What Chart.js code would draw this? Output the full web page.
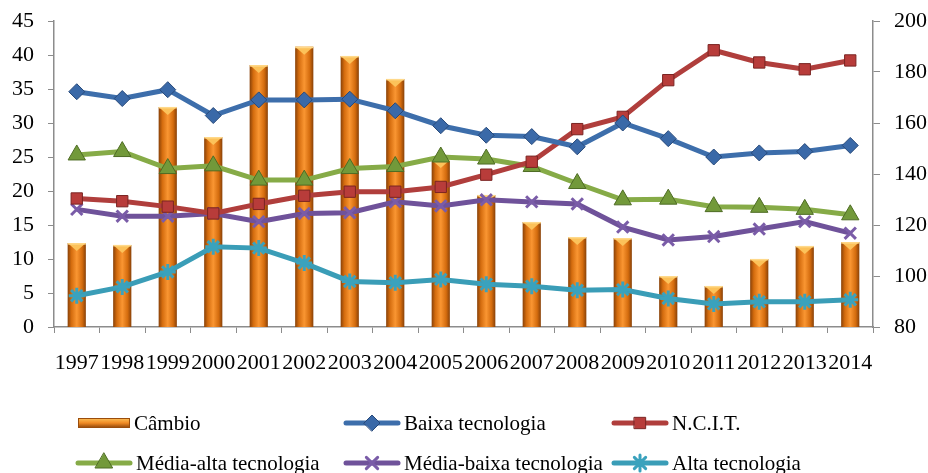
<!DOCTYPE html>
<html>
<head>
<meta charset="utf-8">
<script src="https://cdn.jsdelivr.net/npm/chart.js@4.4.1/dist/chart.umd.min.js"></script>
<style>
html,body{margin:0;padding:0;background:#fff;}
#wrap{position:relative;width:928px;height:473px;}
</style>
</head>
<body>
<div id="wrap"><canvas id="c" width="928" height="473"></canvas></div>
<script>
const years = ['1997','1998','1999','2000','2001','2002','2003','2004','2005','2006','2007','2008','2009','2010','2011','2012','2013','2014'];
const cambio = [112.9,112.2,166.3,154.5,182.7,189.9,186.3,177.3,145.5,131.8,121.2,115.3,114.9,100.0,96.1,106.7,111.8,113.3];
const baixa = [34.6,33.6,34.9,31.1,33.4,33.4,33.5,31.8,29.6,28.2,28.0,26.5,30.0,27.7,25.0,25.6,25.8,26.7];
const ncit = [18.9,18.5,17.7,16.7,18.1,19.3,19.9,19.9,20.6,22.4,24.3,29.1,30.9,36.3,40.7,38.9,37.9,39.2];
const mediaAlta = [25.3,25.8,23.3,23.7,21.6,21.6,23.3,23.6,25.0,24.7,23.6,21.1,18.7,18.8,17.7,17.6,17.3,16.5];
const mediaBaixa = [17.3,16.3,16.3,16.7,15.5,16.7,16.8,18.4,17.8,18.7,18.4,18.1,14.7,12.8,13.3,14.4,15.5,13.8];
const alta = [4.6,5.9,8.1,11.8,11.6,9.4,6.7,6.5,7.0,6.3,6.0,5.4,5.5,4.2,3.4,3.7,3.7,4.0];
const leftTicks = [0,5,10,15,20,25,30,35,40,45];
const rightTicks = [80,100,120,140,160,180,200];

const FONT = "'Liberation Serif', 'Times New Roman', serif";
const AXIS = '#8c8c8c';

function barGradient(context){
  const chart = context.chart;
  const xs = chart.scales.x;
  if (!xs || xs.width === undefined || !chart.chartArea) return '#f08a24';
  const cx = xs.getPixelForValue(context.dataIndex);
  const w = 9;
  const g = chart.ctx.createLinearGradient(cx - w, 0, cx + w, 0);
  g.addColorStop(0, '#8a4208');
  g.addColorStop(0.2, '#d46c0e');
  g.addColorStop(0.5, '#fa9632');
  g.addColorStop(0.8, '#d46c0e');
  g.addColorStop(1, '#8a4208');
  return g;
}

const barTopPlugin = {
  id: 'barTop',
  afterDatasetDraw(chart, args) {
    if (args.index !== 0) return;
    const ctx = chart.ctx;
    const meta = args.meta;
    ctx.save();
    meta.data.forEach(el => {
      const x = el.x, y = el.y, hw = el.width / 2;
      ctx.fillStyle = '#fcc25a';
      ctx.beginPath();
      ctx.moveTo(x - hw, y);
      ctx.lineTo(x + hw, y);
      ctx.lineTo(x, y + 8);
      ctx.closePath();
      ctx.fill();
      ctx.fillStyle = '#ffd98a';
      ctx.fillRect(x - hw, y, el.width, 1.5);
    });
    ctx.restore();
  }
};

const legendItems = [
  {label:'Câmbio', type:'bar', x:78, y:423},
  {label:'Baixa tecnologia', type:'line', color:'#3d6eab', style:'rectRot', x:344, y:423},
  {label:'N.C.I.T.', type:'line', color:'#b03e3c', style:'rect', x:612, y:423},
  {label:'Média-alta tecnologia', type:'line', color:'#86ab47', style:'triangle', x:76, y:463},
  {label:'Média-baixa tecnologia', type:'line', color:'#6f529a', style:'crossRot', x:344, y:463},
  {label:'Alta tecnologia', type:'line', color:'#3a9db7', style:'star', x:612, y:463}
];

function markerStyle(style){
  switch(style){
    case 'rectRot': return {fill:'#3a69a8', stroke:'#27497a', r:8, bw:1};
    case 'rect': return {fill:'#b83c3a', stroke:'#7a2422', r:8, bw:1};
    case 'triangle': return {fill:'#72993a', stroke:'#4e6c24', r:10, bw:1};
    case 'crossRot': return {fill:'#6f529a', stroke:'#7a5ca8', r:8, bw:3};
    case 'star': return {fill:'#3aa2bd', stroke:'#3aa2bd', r:8, bw:3};
  }
}

const legendPlugin = {
  id: 'customLegend',
  afterDraw(chart){
    const ctx = chart.ctx;
    ctx.save();
    legendItems.forEach(it => {
      if (it.type === 'bar') {
        const g = ctx.createLinearGradient(0, it.y - 5, 0, it.y + 5);
        g.addColorStop(0, '#fcc25a');
        g.addColorStop(0.5, '#f08a24');
        g.addColorStop(1, '#8a4208');
        ctx.fillStyle = g;
        ctx.fillRect(it.x, it.y - 5, 52, 10);
        ctx.strokeStyle = '#9a4d0c';
        ctx.lineWidth = 1;
        ctx.strokeRect(it.x + 0.5, it.y - 4.5, 51, 9);
      } else {
        ctx.strokeStyle = it.color;
        ctx.lineWidth = 5;
        ctx.lineCap = 'round';
        ctx.beginPath();
        ctx.moveTo(it.x + 2, it.y);
        ctx.lineTo(it.x + 54, it.y);
        ctx.stroke();
        const m = markerStyle(it.style);
        ctx.fillStyle = m.fill;
        ctx.strokeStyle = m.stroke;
        ctx.lineWidth = m.bw;
        Chart.helpers.drawPoint(ctx, {pointStyle: it.style, radius: m.r, rotation: 0, borderWidth: m.bw}, it.x + 28, it.y);
      }
      ctx.fillStyle = '#000';
      ctx.font = '21px ' + FONT;
      ctx.textBaseline = 'middle';
      ctx.textAlign = 'left';
      ctx.fillText(it.label, it.x + (it.type === 'bar' ? 56 : 60), it.y + 1);
    });
    ctx.restore();
  }
};

function lineDs(label, data, color, style, order){
  const m = markerStyle(style);
  return {
    type:'line', label, data, yAxisID:'y', order,
    borderColor: color, borderWidth: 5, tension: 0,
    pointStyle: style, pointRadius: m.r, pointBackgroundColor: m.fill,
    pointBorderColor: m.stroke, pointBorderWidth: m.bw
  };
}

new Chart(document.getElementById('c'), {
  data: {
    labels: years,
    datasets: [
      {type:'bar', label:'Câmbio', data:cambio, yAxisID:'y2', order:10,
       backgroundColor: barGradient, borderColor:'#8a4208', borderWidth:0,
       barPercentage:0.4, categoryPercentage:1.0},
      lineDs('Alta tecnologia', alta, '#3a9db7', 'star', 6),
      lineDs('Média-baixa tecnologia', mediaBaixa, '#6f529a', 'crossRot', 5),
      lineDs('Média-alta tecnologia', mediaAlta, '#86ab47', 'triangle', 4),
      lineDs('N.C.I.T.', ncit, '#b03e3c', 'rect', 3),
      lineDs('Baixa tecnologia', baixa, '#3d6eab', 'rectRot', 2)
    ]
  },
  options: {
    responsive:false, animation:false,
    layout:{padding:{top:21,left:0,right:0,bottom:0}},
    plugins:{legend:{display:false}, tooltip:{enabled:false}},
    scales:{
      x:{
        offset:true,
        grid:{display:true, drawOnChartArea:false, drawTicks:true, tickLength:6, color:AXIS, offset:true},
        border:{display:true, color:AXIS, width:1.5},
        ticks:{color:'#000', font:{family:FONT, size:22}, padding:17, maxRotation:0, autoSkip:false},
        afterFit(s){ s.height = 473 - 327; s.paddingLeft = 0; s.paddingRight = 0; }
      },
      y:{
        position:'left', min:0, max:45,
        afterBuildTicks(s){ s.ticks = leftTicks.map(v=>({value:v})); },
        grid:{display:true, drawOnChartArea:false, drawTicks:true, tickLength:6, color:AXIS},
        border:{display:true, color:AXIS, width:1.5},
        ticks:{color:'#000', font:{family:FONT, size:22}, padding:14},
        afterFit(s){ s.width = 54; s.paddingTop = 0; s.paddingBottom = 0; }
      },
      y2:{
        position:'right', min:80, max:200,
        afterBuildTicks(s){ s.ticks = rightTicks.map(v=>({value:v})); },
        grid:{display:true, drawOnChartArea:false, drawTicks:true, tickLength:7, color:AXIS},
        border:{display:true, color:AXIS, width:1.5},
        ticks:{color:'#000', font:{family:FONT, size:22}, padding:14},
        afterFit(s){ s.width = 928 - 873; s.paddingTop = 0; s.paddingBottom = 0; }
      }
    }
  },
  plugins:[barTopPlugin, legendPlugin]
});
</script>
</body>
</html>
